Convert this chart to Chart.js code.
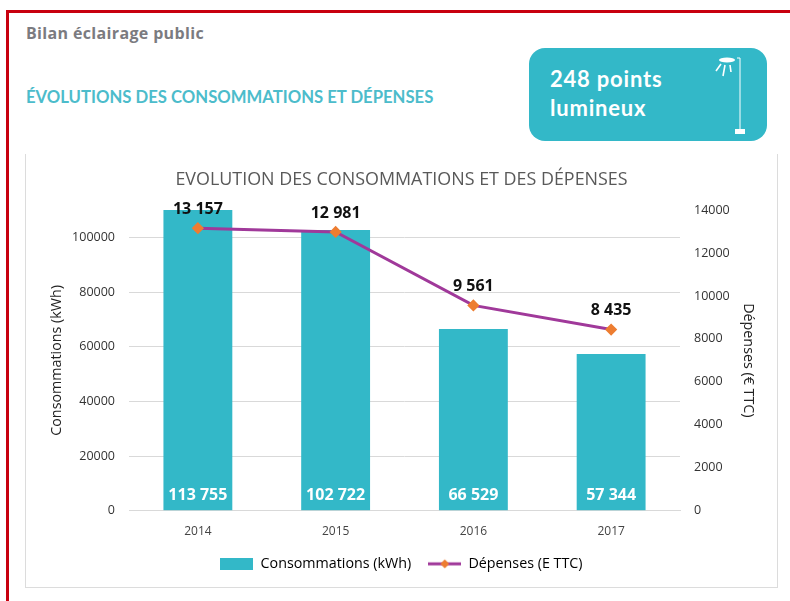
<!DOCTYPE html>
<html lang="fr">
<head>
<meta charset="utf-8">
<title>Bilan éclairage public</title>
<script src="https://cdn.jsdelivr.net/npm/chart.js@4/dist/chart.umd.min.js"></script>
<style>
  html, body { margin: 0; padding: 0; background: #fff; overflow: hidden; }
  body { width: 790px; height: 601px; position: relative; font-family: "Open Sans", sans-serif; }
  .frame-top { position: absolute; left: 6px; top: 10px; width: 784px; height: 3px; background: #c8000f; }
  .frame-left { position: absolute; left: 6px; top: 10px; width: 3px; height: 591px; background: #c8000f; }
  .page-title { position: absolute; left: 26px; top: 22px; font: bold 16px "Open Sans", sans-serif; letter-spacing: 0.35px; color: #7b7b80; white-space: nowrap; }
  .section-title { position: absolute; left: 26px; top: 87px; font: bold 16.7px Lato, sans-serif; color: #4cbccb; white-space: nowrap; }
  .badge { position: absolute; left: 529px; top: 48px; width: 238px; height: 93px; border-radius: 16px; background: #33b8c8; color: #fff; }
  .badge div { position: absolute; left: 21px; font: bold 22px Lato, sans-serif; letter-spacing: 0.8px; line-height: 29px; white-space: nowrap; }
  .badge svg { position: absolute; left: 0; top: 0; }
  .card { position: absolute; left: 25px; top: 154px; width: 751px; height: 433px; border: 1px solid #dcdcdc; border-top: 0; }
  #chart-wrap { position: absolute; left: 0; top: 0; width: 751px; height: 433px; }
</style>
</head>
<body>
<div class="frame-top"></div>
<div class="frame-left"></div>
<div class="page-title">Bilan éclairage public</div>
<div class="section-title">ÉVOLUTIONS DES CONSOMMATIONS ET DÉPENSES</div>
<div class="badge">
  <div style="top:16px">248 points</div>
  <div style="top:45px">lumineux</div>
  <svg width="238" height="93" viewBox="0 0 238 93">
    <ellipse cx="198" cy="12" rx="8" ry="2.5" fill="#fff"/>
    <path d="M208 10 H211 V83" stroke="#fff" stroke-width="1" fill="none"/>
    <rect x="206" y="81" width="10" height="5" fill="#fff"/>
    <path d="M192 16 L187 23 M196 17 L194 28 M201 17 L202 24" stroke="#fff" stroke-width="1.6" fill="none"/>
  </svg>
</div>
<div class="card"><div id="chart-wrap"><canvas id="chart"></canvas></div></div>

<script>
const annees = ['2014', '2015', '2016', '2017'];
const consommations = [113755, 102722, 66529, 57344];
const depenses = [13157, 12981, 9561, 8435];
const ticksConsommations = [0, 20000, 40000, 60000, 80000, 100000];
const ticksDepenses = [0, 2000, 4000, 6000, 8000, 10000, 12000, 14000];

const TEAL = '#33b8c8';
const VIOLET = '#a0399a';
const ORANGE = '#ed7d31';
const POLICE = '"Open Sans", sans-serif';

// 113 755 avec une espace, comme sur l'original
function formatNombre(v) {
    return String(v).replace(/\B(?=(\d{3})+$)/g, ' ');
}

// Petites images pour la légende (barre pleine, ligne + marqueur)
function iconeBarre() {
    const c = document.createElement('canvas');
    c.width = 33; c.height = 12;
    const x = c.getContext('2d');
    x.fillStyle = TEAL;
    x.fillRect(0, 0, 33, 12);
    return c;
}
function iconeLigne() {
    const c = document.createElement('canvas');
    c.width = 33; c.height = 12;
    const x = c.getContext('2d');
    x.fillStyle = VIOLET;
    x.fillRect(0, 4.5, 33, 3);
    x.fillStyle = ORANGE;
    x.beginPath();
    x.moveTo(16.5, 1.5); x.lineTo(21, 6); x.lineTo(16.5, 10.5); x.lineTo(12, 6);
    x.closePath();
    x.fill();
    return c;
}

// Étiquettes de valeurs : en pied de barre et au-dessus de la courbe
const etiquettes = {
    id: 'etiquettes',
    afterDatasetsDraw(chart) {
        const ctx = chart.ctx;
        ctx.save();
        ctx.textAlign = 'center';
        ctx.textBaseline = 'middle';
        ctx.font = 'bold 16px ' + POLICE;
        ctx.fillStyle = '#fff';
        chart.getDatasetMeta(0).data.forEach((bar, i) => {
            ctx.fillText(formatNombre(consommations[i]), bar.x, bar.base - 15);
        });
        ctx.fillStyle = '#111';
        chart.getDatasetMeta(1).data.forEach((pt, i) => {
            ctx.fillText(formatNombre(depenses[i]), pt.x, pt.y - 19);
        });
        ctx.restore();
    }
};

new Chart(document.getElementById('chart'), {
    type: 'bar',
    plugins: [etiquettes],
    data: {
        labels: annees,
        datasets: [{
            type: 'bar',
            label: 'Consommations (kWh)',
            data: consommations,
            yAxisID: 'y',
            backgroundColor: TEAL,
            categoryPercentage: 0.5,
            barPercentage: 1,
            order: 2
        }, {
            type: 'line',
            label: 'Dépenses (E TTC)',
            data: depenses,
            yAxisID: 'y1',
            borderColor: VIOLET,
            borderWidth: 3,
            tension: 0,
            pointStyle: 'rectRot',
            pointRadius: 4,
            pointBackgroundColor: ORANGE,
            pointBorderColor: ORANGE,
            order: 1
        }]
    },
    options: {
        responsive: true,
        maintainAspectRatio: false,
        animation: false,
        layout: { padding: { bottom: 6 } },
        plugins: {
            title: {
                display: true,
                text: 'EVOLUTION DES CONSOMMATIONS ET DES DÉPENSES',
                color: '#595959',
                font: { family: POLICE, size: 17.9, weight: 'normal' },
                padding: { top: 15, bottom: 19.6 }
            },
            legend: {
                position: 'bottom',
                labels: {
                    usePointStyle: true,
                    pointStyleWidth: 33,
                    color: '#222',
                    font: { family: POLICE, size: 14.3 },
                    padding: 17,
                    generateLabels() {
                        return [
                            { text: 'Consommations (kWh)', pointStyle: iconeBarre(), datasetIndex: 0, lineWidth: 0 },
                            { text: 'Dépenses (E TTC)', pointStyle: iconeLigne(), datasetIndex: 1, lineWidth: 0 }
                        ];
                    }
                }
            }
        },
        scales: {
            x: {
                grid: { display: false },
                border: { color: '#d9d9d9', width: 1 },
                ticks: { color: '#444', font: { family: POLICE, size: 12 }, padding: 6 },
                afterFit(scale) { scale.height = 29; }
            },
            y: {
                min: 0,
                max: 110000,
                position: 'left',
                // pas de graduation à 110000 : le haut de la barre 2014 est coupé
                afterBuildTicks(scale) {
                    scale.ticks = ticksConsommations.map(value => ({ value }));
                },
                afterFit(scale) { scale.width = 103; },
                grid: { color: '#d9d9d9', drawTicks: false },
                border: { display: false },
                ticks: {
                    color: '#333',
                    font: { family: POLICE, size: 12.5 },
                    padding: 14,
                    callback: v => String(v)
                },
                title: {
                    display: true,
                    text: 'Consommations (kWh)',
                    color: '#222',
                    font: { family: POLICE, size: 14.3 },
                    padding: { top: 22, bottom: 0 }
                }
            },
            y1: {
                min: 0,
                max: 14000,
                position: 'right',
                afterBuildTicks(scale) {
                    scale.ticks = ticksDepenses.map(value => ({ value }));
                },
                afterFit(scale) { scale.width = 97; },
                grid: { display: false, drawTicks: false },
                border: { display: false },
                ticks: {
                    color: '#333',
                    font: { family: POLICE, size: 12.5 },
                    padding: 14,
                    callback: v => String(v)
                },
                title: {
                    display: true,
                    text: 'Dépenses (€ TTC)',
                    color: '#222',
                    font: { family: POLICE, size: 14.3 },
                    padding: { top: 20, bottom: 0 }
                }
            }
        }
    }
});
</script>
</body>
</html>
